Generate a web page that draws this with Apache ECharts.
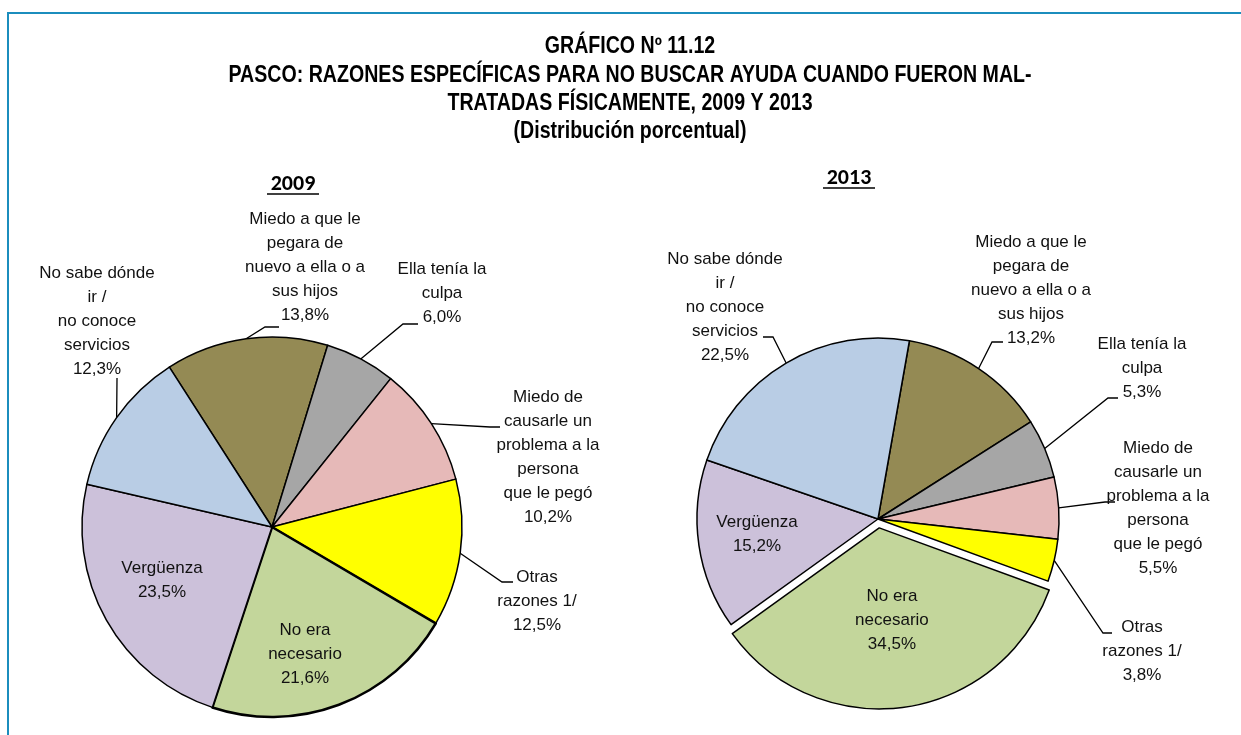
<!DOCTYPE html>
<html lang="es">
<head>
    <meta charset="UTF-8">
    <title>Gráfico 11.12</title>
    <style>
        html, body { margin: 0; padding: 0; background: #fff; }
        #container { width: 1241px; height: 735px; }
    </style>
</head>
<body>
    <div id="container"></div>
    <script src="https://cdn.jsdelivr.net/npm/echarts@6/dist/echarts.min.js"></script>
    <script>
        var titleLines = [
            'GRÁFICO Nº 11.12',
            'PASCO: RAZONES ESPECÍFICAS PARA NO BUSCAR AYUDA CUANDO FUERON MAL-',
            'TRATADAS FÍSICAMENTE, 2009 Y 2013',
            '(Distribución porcentual)'
        ];
        var years = ['2009', '2013'];

        // categories, same order in both years (clockwise from the olive slice)
        var categories = [
            'Miedo a que le\npegara de\nnuevo a ella o a\nsus hijos',
            'Ella tenía la\nculpa',
            'Miedo de\ncausarle un\nproblema a la\npersona\nque le pegó',
            'Otras\nrazones 1/',
            'No era\nnecesario',
            'Vergüenza',
            'No sabe dónde\nir /\nno conoce\nservicios'
        ];
        var values2009 = [13.8, 6.0, 10.2, 12.5, 21.6, 23.5, 12.3];
        var values2013 = [13.2, 5.3, 5.5, 3.8, 34.5, 15.2, 22.5];
        var colors = ['#948a54', '#a6a6a6', '#e6b9b8', '#ffff00', '#c3d69b', '#ccc1da', '#b9cde5'];
        var insideLabels = [4, 5];

        // label placement (centre of text block) and leader elbow/end points
        var labelPos2009 = [
            { x: 305, y: 267, line: [[265, 327], [279, 327]] },
            { x: 442, y: 293, line: [[403, 324], [418, 324]] },
            { x: 548, y: 457, line: [[490, 427], [500, 427]] },
            { x: 537, y: 601, line: [[502, 582], [513, 582]] },
            { x: 305, y: 654 },
            { x: 162, y: 580 },
            { x: 97, y: 321, line: [[117, 379], [117, 378]] }
        ];
        var labelPos2013 = [
            { x: 1031, y: 290, line: [[992, 342], [1003, 342]] },
            { x: 1142, y: 368, line: [[1108, 398], [1118, 398]] },
            { x: 1158, y: 508, line: [[1105, 502], [1115, 502]] },
            { x: 1142, y: 651, line: [[1103, 633], [1112, 633]] },
            { x: 912, y: 642 },
            { x: 757, y: 534 },
            { x: 725, y: 307, line: [[773, 337], [763, 337]] }
        ];

        var labelFont = "'Liberation Sans', Arial, sans-serif";

        function fmt(v) {
            return v.toFixed(1).replace('.', ',') + '%';
        }

        function buildData(values, exploded, thick) {
            return values.map(function (v, i) {
                var inside = insideLabels.indexOf(i) >= 0;
                var item = {
                    name: categories[i],
                    value: v,
                    itemStyle: { color: colors[i] },
                    label: { position: inside ? 'inside' : 'outside' },
                    labelLine: { show: !inside }
                };
                if (i === exploded) item.selected = true;
                if (i === thick) item.itemStyle.borderWidth = 2.6;
                return item;
            });
        }

        function makeLayout(pos) {
            return function (params) {
                var p = pos[params.dataIndex];
                var out = { x: p.x, y: p.y, align: 'center', verticalAlign: 'middle' };
                if (p.line && params.labelLinePoints) {
                    out.labelLinePoints = [params.labelLinePoints[0], p.line[0], p.line[1]];
                }
                return out;
            };
        }

        function pieSeries(values, center, radius, startAngle, pos, exploded, thick) {
            return {
                type: 'pie',
                center: center,
                radius: radius,
                startAngle: startAngle,
                clockwise: true,
                avoidLabelOverlap: false,
                selectedMode: exploded != null ? 'single' : false,
                selectedOffset: 9,
                animation: false,
                emphasis: { disabled: true },
                itemStyle: { borderColor: '#000', borderWidth: 1.5 },
                select: { itemStyle: { borderColor: '#000', borderWidth: 1.5 } },
                label: {
                    formatter: function (p) { return p.name + '\n' + fmt(p.value); },
                    fontFamily: labelFont,
                    fontSize: 17,
                    lineHeight: 24,
                    color: '#111',
                    align: 'center'
                },
                labelLine: {
                    show: true,
                    length: 20,
                    length2: 10,
                    lineStyle: { color: '#000', width: 1.3 }
                },
                labelLayout: makeLayout(pos),
                data: buildData(values, exploded, thick)
            };
        }

        // title drawn as narrow bold text (Arial Narrow look)
        var graphics = [
            { type: 'rect', shape: { x: 8, y: 13, width: 1400, height: 900 },
              style: { fill: 'none', stroke: '#1b8dbd', lineWidth: 2 }, silent: true }
        ];
        titleLines.forEach(function (t, i) {
            graphics.push({
                type: 'text', x: 630, y: 47 + i * 28.3, scaleX: 0.852,
                style: { text: t, x: 0, y: 0, textAlign: 'center', textVerticalAlign: 'middle',
                         font: "bold 23px 'Liberation Sans', Arial, sans-serif", fill: '#000' }
            });
        });
        var yearPos = [{ x: 293, y: 184, u: 194 }, { x: 849, y: 178, u: 188 }];
        years.forEach(function (t, i) {
            var p = yearPos[i];
            graphics.push({ type: 'text', style: { text: t, x: p.x, y: p.y, textAlign: 'center', textVerticalAlign: 'middle',
                            font: "bold 22px Carlito, Lato, sans-serif", fill: '#000' } });
            graphics.push({ type: 'line', shape: { x1: p.x - 26, y1: p.u, x2: p.x + 26, y2: p.u },
                            style: { stroke: '#000', lineWidth: 1.5 } });
        });

        var chart = echarts.init(document.getElementById('container'));
        chart.setOption({
            backgroundColor: '#fff',
            animation: false,
            graphic: graphics,
            series: [
                pieSeries(values2009, [272, 527], 190, 122.7, labelPos2009, null, 4),
                pieSeries(values2013, [878, 519], 181, 80, labelPos2013, 4, null)
            ]
        });
    </script>
</body>
</html>
